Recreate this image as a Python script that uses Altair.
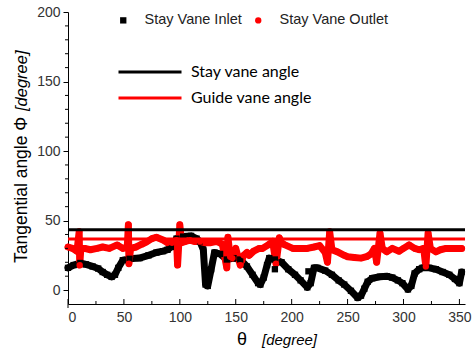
import altair as alt
import pandas as pd

# ---------------- data ----------------
inlet_theta = [0, 5, 11, 16, 22, 27, 31, 35, 39, 42, 45, 49, 55, 64, 72, 79, 85, 89, 92, 97,
               103, 110, 115, 118, 121, 123, 125, 128, 131, 136, 142, 148, 154, 160, 165, 170,
               172, 175, 178, 180, 185, 191, 197, 203, 208, 214, 217, 220, 223, 230, 236, 242,
               247, 253, 259, 262, 265, 268, 272, 279, 285, 290, 295, 299, 304, 307, 310, 314,
               317, 323, 329, 335, 341, 346, 350, 352]
inlet_value = [16, 18, 19.5, 18.5, 17, 15.5, 13, 11, 9.5, 11, 16, 21.5, 22.5, 23, 25, 27, 28, 29, 31, 37,
               38.5, 39, 37, 35, 29, 4, 3, 15, 27, 26, 22, 23, 22, 17, 11, 5,
               4, 9, 18, 23, 22, 20, 15, 11, 7, 2, 5, 16, 16, 14, 11, 7,
               4, -0.5, -5.5, -4, 1, 6, 8.5, 9.6, 10, 9, 7, 5, 0.5, 3, 12, 15,
               16, 16, 15, 13, 11, 8, 5, 13]

inlet_extra_theta = [185, 215]
inlet_extra_value = [15, 13.5]

outlet_theta = [0, 4, 8, 10, 10.5, 11.5, 15, 20, 26, 31, 37, 44, 49, 53, 54, 54.5, 56, 61, 66, 70,
                75, 79, 85, 89, 93, 97, 98, 100, 101.5, 105, 109, 113, 118, 123, 127, 133, 138, 142,
                143, 145, 147, 150, 154, 157, 160, 162, 166, 171, 174, 180, 183, 186, 189, 191, 194,
                201, 208, 214, 220, 225, 230, 232, 234, 236, 241, 247, 250, 256, 262, 267, 271, 274,
                276, 279, 281, 285, 290, 296, 300, 305, 310, 314, 318, 320, 322, 324, 329, 333, 338,
                343, 347, 352]
outlet_value = [31, 30, 28, 42, 18, 30, 30, 29, 30, 31, 30, 32.5, 30, 31, 47, 19, 30, 31, 33, 34.5,
                37, 38, 36, 34, 34, 36, 18, 47, 34, 35, 36, 35, 35, 34, 34, 35, 33, 16,
                38, 24, 23, 30, 18, 25, 27, 25, 28, 30, 30, 33, 35, 19, 37.6, 34, 32.5,
                30, 30, 30, 31, 32, 27, 20, 42, 29, 27.5, 25, 24, 23.5, 23, 24, 26, 30,
                20, 41, 30, 27.5, 30, 28, 30, 32.5, 30, 29, 30, 17, 41, 30, 27.5, 29, 30,
                30, 30, 30]

ref_names = ["Stay vane angle", "Guide vane angle"]
ref_values = [43.4, 36.7]

series_names = ["Stay Vane Inlet", "Stay Vane Outlet"]
x_major = [0, 50, 100, 150, 200, 250, 300, 350]
x_minor = [25, 75, 125, 175, 225, 275, 325]
y_major = [0, 50, 100, 150, 200]
y_minor = [10, 20, 30, 40, 60, 70, 80, 90, 110, 120, 130, 140, 160, 170, 180, 190]

# ---------------- tables ----------------
inlet = pd.DataFrame({"theta": inlet_theta, "value": inlet_value, "series": series_names[0]})
outlet = pd.DataFrame({"theta": outlet_theta, "value": outlet_value, "series": series_names[1]})
extra = pd.DataFrame({"theta": inlet_extra_theta, "value": inlet_extra_value, "series": series_names[0]})
points = pd.concat([inlet, outlet, extra], ignore_index=True)
refs = pd.DataFrame({"name": ref_names, "value": ref_values})

W, H = 397, 292
XS = alt.Scale(domain=[0, 355], nice=False, zero=False)
YS = alt.Scale(domain=[-10, 200], nice=False, zero=False)

X_AXIS = alt.Axis(values=x_major, title=None, ticks=False, labelPadding=6,
                  labelFontSize=14, labelColor="#333", labelFont="Liberation Sans",
                  domainColor="black", grid=False)
Y_AXIS = alt.Axis(values=y_major, title=None, tickSize=5, labelPadding=3,
                  labelFontSize=14, labelColor="#333", labelFont="Liberation Sans",
                  domainColor="black", tickColor="black", grid=False)


def xq(field):
    return alt.X(f"{field}:Q", scale=XS, axis=X_AXIS, title=None)


def yq(field):
    return alt.Y(f"{field}:Q", scale=YS, axis=Y_AXIS, title=None)


line_in = alt.Chart(inlet).mark_line(color="black", strokeWidth=7, strokeJoin="round",
                                     strokeCap="round").encode(x=xq("theta"), y=yq("value"))
line_out = alt.Chart(outlet).mark_line(color="#ff0000", strokeWidth=7, strokeJoin="round",
                                       strokeCap="round").encode(x=xq("theta"), y=yq("value"))

leg1 = dict(title=None, orient="none", direction="horizontal",
            legendX=48, legendY=1, labelFontSize=14.5,
            labelFont="Liberation Sans", labelColor="#222",
            symbolSize=40, labelOffset=14, columnPadding=9, padding=0)

pts = alt.Chart(points).mark_point(filled=True, opacity=1, size=40).encode(
    x=xq("theta"), y=yq("value"),
    color=alt.Color("series:N", scale=alt.Scale(domain=series_names, range=["black", "#ff0000"]),
                    legend=alt.Legend(**leg1)),
    shape=alt.Shape("series:N", scale=alt.Scale(domain=series_names, range=["square", "circle"]),
                    legend=alt.Legend(**leg1)),
)

rules = alt.Chart(refs).mark_rule(strokeWidth=3).encode(
    y=yq("value"),
    stroke=alt.Stroke("name:N", scale=alt.Scale(domain=ref_names, range=["black", "#ff0000"]),
                      legend=alt.Legend(title=None, orient="none", direction="vertical",
                                        legendX=74, legendY=52, labelFontSize=16,
                                        labelFont="Lato", labelColor="black",
                                        symbolType="M-6.3,0H6.3", symbolSize=100,
                                        symbolStrokeWidth=3, labelOffset=33,
                                        rowPadding=10, padding=0)),
)

xmajor_t = alt.Chart(pd.DataFrame({"t": x_major})).mark_rule(color="black", strokeWidth=1).encode(
    x=xq("t"), y=alt.value(H), y2=alt.value(H - 5))
xminor_t = alt.Chart(pd.DataFrame({"t": x_minor})).mark_rule(color="black", strokeWidth=1).encode(
    x=xq("t"), y=alt.value(H), y2=alt.value(H - 3))
yminor_t = alt.Chart(pd.DataFrame({"t": y_minor})).mark_rule(color="black", strokeWidth=1).encode(
    y=yq("t"), x=alt.value(-3), x2=alt.value(0))
yext = alt.Chart(pd.DataFrame({"t": [0]})).mark_rule(color="black", strokeWidth=1).encode(
    x=alt.value(0), y=alt.value(H), y2=alt.value(H + 4))

ytitle1 = alt.Chart(pd.DataFrame({"t": ["Tangential angle Φ"]})).mark_text(
    angle=270, align="left", baseline="middle", fontSize=17.5, font="Liberation Sans",
    color="black").encode(text="t:N", x=alt.value(-46), y=alt.value(251))
ytitle2 = alt.Chart(pd.DataFrame({"t": ["[degree]"]})).mark_text(
    angle=270, align="left", baseline="middle", fontSize=16.5, font="Liberation Sans",
    fontStyle="italic", color="black").encode(text="t:N", x=alt.value(-46), y=alt.value(99))
xtitle1 = alt.Chart(pd.DataFrame({"t": ["θ"]})).mark_text(
    align="center", baseline="alphabetic", fontSize=18, font="Liberation Sans",
    color="black").encode(text="t:N", x=alt.value(174), y=alt.value(333))
xtitle2 = alt.Chart(pd.DataFrame({"t": ["[degree]"]})).mark_text(
    align="left", baseline="alphabetic", fontSize=15, font="Liberation Sans",
    fontStyle="italic", color="black").encode(text="t:N", x=alt.value(194), y=alt.value(333))

chart = alt.layer(line_in, line_out, pts, rules, xmajor_t, xminor_t, yminor_t, yext,
                  ytitle1, ytitle2, xtitle1, xtitle2).properties(
    width=W, height=H,
    autosize=alt.AutoSizeParams(type="none"),
    padding={"left": 68, "top": 12, "right": 7, "bottom": 51},
).configure_view(stroke=None)

chart.save("out.html", embed_options={"renderer": "svg", "actions": False})
